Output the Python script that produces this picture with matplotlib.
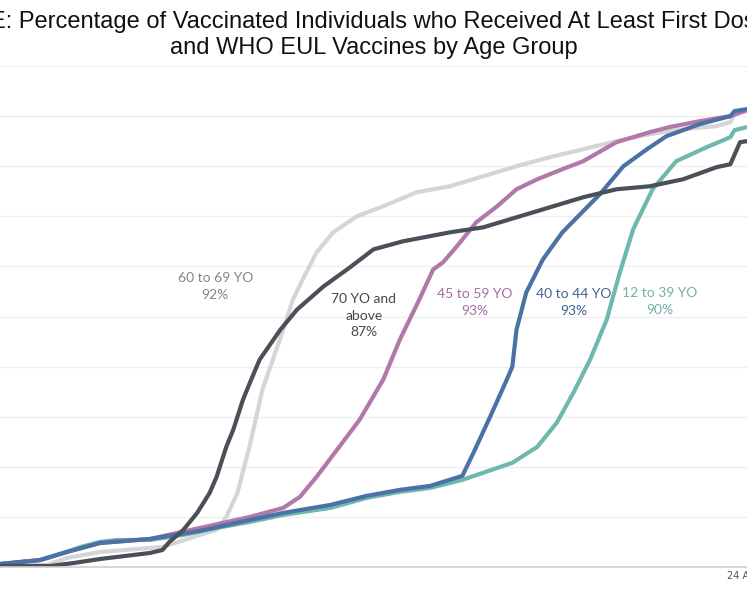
import matplotlib
matplotlib.use("Agg")
import matplotlib.pyplot as plt

# days since start of rollout, and % of group with at least first dose
teal_days = [0, 29, 48, 58, 72, 84, 108, 132, 156, 180, 204, 238, 264, 288, 310, 333, 369, 387,
             401, 413, 425, 437, 446, 456, 470, 487, 509, 526, 529, 538]
teal_pct = [0.6, 1.4, 3.0, 4.0, 5.0, 5.4, 5.4, 6.4, 7.8, 9.0, 10.4, 11.8, 13.8, 15.0, 15.8, 17.4,
            20.8, 24.0, 28.8, 34.8, 41.4, 49.4, 58.4, 67.4, 75.4, 81.0, 83.8, 85.8, 87.2, 87.8]

blue_days = [0, 29, 48, 72, 108, 144, 180, 204, 238, 264, 288, 310, 333, 341, 353, 365, 369, 372,
             379, 391, 405, 432, 449, 466, 480, 504, 526, 529, 538]
blue_pct = [0.6, 1.4, 3.0, 4.8, 5.6, 7.2, 9.4, 10.8, 12.4, 14.2, 15.4, 16.2, 18.2, 22.8, 30.0,
            37.4, 40.0, 47.4, 54.8, 61.4, 66.8, 74.4, 80.0, 83.4, 86.0, 88.4, 90.0, 91.0, 91.4]

pink_days = [0, 29, 48, 72, 108, 144, 180, 204, 216, 228, 240, 259, 276, 288, 302, 312, 319, 329,
             343, 358, 372, 387, 405, 420, 444, 468, 482, 504, 526, 538]
pink_pct = [0.6, 1.4, 3.0, 4.8, 5.6, 7.8, 10.0, 11.8, 14.0, 18.0, 22.4, 29.4, 37.4, 45.4, 53.4,
            59.4, 60.8, 64.0, 68.8, 72.0, 75.4, 77.4, 79.4, 81.0, 84.8, 86.8, 87.8, 89.0, 90.0, 91.2]

gray_days = [0, 34, 48, 72, 117, 144, 156, 163, 171, 180, 189, 204, 211, 218, 228, 240, 257, 276,
             300, 324, 348, 372, 396, 420, 444, 468, 492, 516, 526, 529, 538]
gray_pct = [0.4, 0.4, 1.8, 3.0, 4.0, 6.4, 7.4, 10.0, 14.8, 24.4, 35.4, 47.4, 53.4, 57.4, 62.8,
            66.8, 70.0, 72.0, 74.8, 76.0, 78.0, 80.0, 81.8, 83.4, 85.0, 86.4, 87.4, 88.0, 88.8,
            90.4, 91.0]

dark_days = [0, 36, 53, 72, 108, 117, 122, 132, 142, 151, 156, 163, 168, 175, 180, 187, 202, 214,
             233, 252, 269, 290, 324, 348, 372, 396, 420, 444, 468, 492, 516, 526, 533, 538]
dark_pct = [0.2, 0.2, 0.8, 1.6, 2.8, 3.4, 5.0, 7.4, 10.8, 14.8, 18.0, 24.0, 27.4, 33.4, 36.8,
            41.4, 47.4, 51.4, 56.0, 59.8, 63.4, 65.0, 66.8, 67.8, 69.8, 71.8, 73.8, 75.4, 76.0,
            77.4, 79.8, 80.4, 84.8, 85.0]

groups = ["60 to 69 YO\n92%", "70 YO and\nabove\n87%", "45 to 59 YO\n93%",
          "40 to 44 YO\n93%", "12 to 39 YO\n90%"]
label_pos = [(155, 58.8), (262, 54.6), (342, 55.6), (413, 55.6), (475, 55.8)]
colors = ["#d5d5d5", "#4b4f57", "#b178a8", "#4a72a5", "#6fb8ad"]
text_colors = ["#858585", "#45474d", "#a86c9f", "#3f6596", "#72b0a8"]

fig = plt.figure(figsize=(7.47, 5.98), dpi=100)
ax = fig.add_axes([0, 0.0518, 1, 0.8378])

series = [(gray_days, gray_pct, colors[0]), (teal_days, teal_pct, colors[4]),
          (pink_days, pink_pct, colors[2]), (blue_days, blue_pct, colors[3]),
          (dark_days, dark_pct, colors[1])]
for days, pct, c in series:
    ax.plot(days, pct, color=c, lw=3, solid_capstyle="round", solid_joinstyle="round")

ax.set_xlim(0, 538)
ax.set_ylim(0, 100)
ax.set_yticks(range(10, 101, 10))
ax.yaxis.grid(True, color="#efefef", lw=0.9)
ax.set_axisbelow(True)
ax.axhline(100, color="#d8d8d8", lw=1.2, zorder=0)
ax.tick_params(axis="y", length=0, labelleft=False)
ax.set_xticks([536])
ax.set_xticklabels(["24 Aug"])
ax.tick_params(axis="x", length=0, labelsize=7, labelcolor="#555555", pad=3)
for s in ["top", "right", "left"]:
    ax.spines[s].set_visible(False)
ax.spines["bottom"].set_color("#d0d0d0")
ax.spines["bottom"].set_linewidth(1.2)

for text, (x, y), tc in zip(groups, label_pos, text_colors):
    ax.text(x, y, text, ha="center", va="top", color=tc, fontsize=10,
            family="Lato", linespacing=1.45)

# the title is cropped on both sides in the reference
fig.text(-0.013, 0.963, "E: Percentage of Vaccinated Individuals who Received At Least First Dose",
         ha="left", va="center", fontsize=17, family="Liberation Sans", color="#111111")
fig.text(0.5, 0.919, "and WHO EUL Vaccines by Age Group",
         ha="center", va="center", fontsize=17, family="Liberation Sans", color="#111111")

fig.savefig("out.png", dpi=100)
